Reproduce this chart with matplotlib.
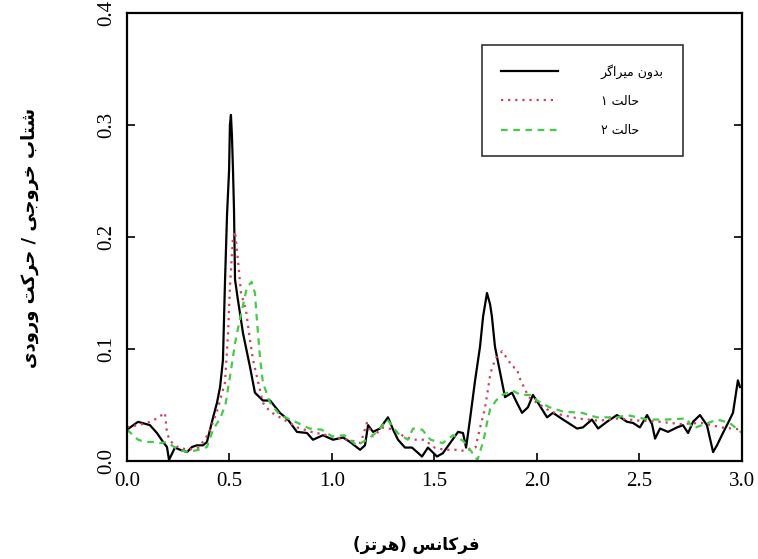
import matplotlib
matplotlib.use("Agg")
import matplotlib.pyplot as plt

# ---------------- data ----------------
f_none = [0.000, 0.054, 0.112, 0.146, 0.176, 0.195, 0.205, 0.234, 0.259, 0.293, 0.317, 0.341,
          0.371, 0.390, 0.405, 0.420, 0.439, 0.454, 0.468, 0.478, 0.488, 0.498, 0.502, 0.507,
          0.512, 0.517, 0.522, 0.527, 0.541, 0.566, 0.600, 0.624, 0.663, 0.698, 0.746, 0.785,
          0.829, 0.878, 0.907, 0.956, 1.005, 1.054, 1.088, 1.137, 1.161, 1.176, 1.200, 1.234,
          1.273, 1.298, 1.322, 1.356, 1.390, 1.415, 1.439, 1.468, 1.512, 1.541, 1.576, 1.615,
          1.639, 1.654, 1.673, 1.698, 1.722, 1.737, 1.756, 1.771, 1.780, 1.795, 1.820, 1.844,
          1.878, 1.902, 1.927, 1.956, 1.980, 2.005, 2.049, 2.078, 2.127, 2.195, 2.224, 2.268,
          2.298, 2.341, 2.390, 2.439, 2.468, 2.502, 2.537, 2.561, 2.576, 2.600, 2.639, 2.683,
          2.712, 2.737, 2.761, 2.795, 2.829, 2.844, 2.859, 2.878, 2.907, 2.932, 2.956, 2.971,
          2.980, 2.990]
a_none = [0.028, 0.035, 0.032, 0.025, 0.017, 0.0125, 0.001, 0.012, 0.010, 0.008, 0.0125, 0.014,
          0.014, 0.017, 0.028, 0.039, 0.052, 0.066, 0.090, 0.160, 0.220, 0.260, 0.300, 0.309,
          0.290, 0.260, 0.224, 0.162, 0.144, 0.114, 0.084, 0.061, 0.054, 0.054, 0.043, 0.037,
          0.026, 0.025, 0.019, 0.023, 0.019, 0.021, 0.017, 0.010, 0.014, 0.032, 0.026, 0.029,
          0.039, 0.028, 0.019, 0.012, 0.012, 0.008, 0.004, 0.012, 0.004, 0.007, 0.016, 0.026,
          0.025, 0.012, 0.037, 0.072, 0.102, 0.129, 0.150, 0.140, 0.129, 0.102, 0.079, 0.057,
          0.061, 0.052, 0.043, 0.048, 0.059, 0.052, 0.039, 0.043, 0.037, 0.029, 0.030, 0.037,
          0.029, 0.035, 0.041, 0.035, 0.034, 0.030, 0.041, 0.033, 0.020, 0.029, 0.026, 0.030,
          0.032, 0.025, 0.035, 0.041, 0.032, 0.020, 0.008, 0.014, 0.025, 0.034, 0.043, 0.061,
          0.072, 0.066]

f_case1 = [0.000, 0.050, 0.100, 0.146, 0.185, 0.195, 0.210, 0.250, 0.300, 0.350, 0.400, 0.440,
           0.478, 0.493, 0.502, 0.517, 0.527, 0.541, 0.556, 0.580, 0.600, 0.615, 0.634, 0.663,
           0.698, 0.746, 0.830, 0.900, 0.950, 1.000, 1.050, 1.100, 1.140, 1.170, 1.200, 1.250,
           1.300, 1.350, 1.400, 1.450, 1.500, 1.550, 1.600, 1.650, 1.700, 1.720, 1.745, 1.760,
           1.770, 1.780, 1.800, 1.830, 1.860, 1.880, 1.900, 1.920, 1.960, 2.000, 2.050, 2.100,
           2.200, 2.300, 2.400, 2.500, 2.600, 2.700, 2.800, 2.900, 3.000]
a_case1 = [0.030, 0.032, 0.034, 0.038, 0.043, 0.025, 0.018, 0.012, 0.010, 0.012, 0.025, 0.045,
           0.070, 0.114, 0.155, 0.200, 0.205, 0.180, 0.150, 0.135, 0.108, 0.090, 0.075, 0.052,
           0.044, 0.039, 0.030, 0.026, 0.024, 0.022, 0.020, 0.018, 0.016, 0.034, 0.022, 0.030,
           0.028, 0.022, 0.019, 0.019, 0.012, 0.010, 0.010, 0.009, 0.012, 0.028, 0.046, 0.063,
           0.075, 0.083, 0.092, 0.098, 0.090, 0.084, 0.083, 0.072, 0.057, 0.052, 0.046, 0.042,
           0.038, 0.036, 0.038, 0.036, 0.035, 0.033, 0.034, 0.030, 0.028]

f_case2 = [0.000, 0.054, 0.090, 0.130, 0.160, 0.195, 0.250, 0.300, 0.350, 0.390, 0.420, 0.454,
           0.480, 0.502, 0.527, 0.541, 0.561, 0.585, 0.608, 0.624, 0.634, 0.649, 0.663, 0.698,
           0.746, 0.810, 0.890, 0.950, 1.000, 1.060, 1.120, 1.170, 1.220, 1.270, 1.320, 1.370,
           1.395, 1.440, 1.480, 1.540, 1.590, 1.640, 1.690, 1.710, 1.740, 1.756, 1.771, 1.800,
           1.830, 1.880, 1.920, 1.970, 2.000, 2.060, 2.130, 2.220, 2.290, 2.390, 2.440, 2.540,
           2.630, 2.730, 2.760, 2.880, 2.940, 2.980, 3.000]
a_case2 = [0.028, 0.019, 0.017, 0.017, 0.016, 0.017, 0.010, 0.008, 0.010, 0.0125, 0.028, 0.038,
           0.050, 0.075, 0.105, 0.118, 0.135, 0.155, 0.160, 0.150, 0.125, 0.092, 0.070, 0.052,
           0.041, 0.036, 0.029, 0.028, 0.022, 0.023, 0.014, 0.019, 0.026, 0.037, 0.025, 0.019,
           0.029, 0.028, 0.019, 0.016, 0.023, 0.018, 0.006, 0.001, 0.019, 0.034, 0.046, 0.054,
           0.059, 0.063, 0.059, 0.059, 0.054, 0.048, 0.044, 0.043, 0.039, 0.039, 0.041, 0.037,
           0.037, 0.038, 0.029, 0.037, 0.034, 0.028, 0.025]

labels = ["بدون میراگر", "حالت ۱", "حالت ۲"]
xlabel = "فرکانس (هرتز)"
ylabel = "شتاب خروجی / حرکت ورودی"
xticks = [0.0, 0.5, 1.0, 1.5, 2.0, 2.5, 3.0]
yticks = [0.0, 0.1, 0.2, 0.3, 0.4]

# ------------- simple Arabic/Persian shaping (matplotlib has no bidi) -------------
FORMS = {
    'ا': ('\uFE8D', '\uFE8E', None, None),
    'ب': ('\uFE8F', '\uFE90', '\uFE91', '\uFE92'),
    'ت': ('\uFE95', '\uFE96', '\uFE97', '\uFE98'),
    'ج': ('\uFE9D', '\uFE9E', '\uFE9F', '\uFEA0'),
    'ح': ('\uFEA1', '\uFEA2', '\uFEA3', '\uFEA4'),
    'خ': ('\uFEA5', '\uFEA6', '\uFEA7', '\uFEA8'),
    'د': ('\uFEA9', '\uFEAA', None, None),
    'ر': ('\uFEAD', '\uFEAE', None, None),
    'ز': ('\uFEAF', '\uFEB0', None, None),
    'س': ('\uFEB1', '\uFEB2', '\uFEB3', '\uFEB4'),
    'ش': ('\uFEB5', '\uFEB6', '\uFEB7', '\uFEB8'),
    'ف': ('\uFED1', '\uFED2', '\uFED3', '\uFED4'),
    'ل': ('\uFEDD', '\uFEDE', '\uFEDF', '\uFEE0'),
    'م': ('\uFEE1', '\uFEE2', '\uFEE3', '\uFEE4'),
    'ن': ('\uFEE5', '\uFEE6', '\uFEE7', '\uFEE8'),
    'ه': ('\uFEE9', '\uFEEA', '\uFEEB', '\uFEEC'),
    'و': ('\uFEED', '\uFEEE', None, None),
    'ی': ('\uFBFC', '\uFBFD', '\uFBFE', '\uFBFF'),
    'ک': ('\uFB8E', '\uFB8F', '\uFB90', '\uFB91'),
    'گ': ('\uFB92', '\uFB93', '\uFB94', '\uFB95'),
}


def shape(text):
    out = []
    for i, c in enumerate(text):
        if c not in FORMS:
            out.append(c)
            continue
        iso, fin, ini, med = FORMS[c]
        prev = text[i - 1] if i > 0 else ''
        nxt = text[i + 1] if i + 1 < len(text) else ''
        jp = prev in FORMS and FORMS[prev][2] is not None
        jn = nxt in FORMS and ini is not None
        if jp and jn:
            out.append(med)
        elif jp:
            out.append(fin)
        elif jn:
            out.append(ini)
        else:
            out.append(iso)
    s = ''.join(out)[::-1]
    mirror = {'(': ')', ')': '('}
    return ''.join(mirror.get(c, c) for c in s)


ARFONT = ['DejaVu Sans']
SERIF = ['Liberation Serif', 'DejaVu Serif']

fig = plt.figure(figsize=(7.58, 5.59), dpi=100)
ax = fig.add_axes([127 / 758, 98 / 559, 615 / 758, 448 / 559])

ax.plot(f_none, a_none, color='black', lw=1.6, ls='-', label=shape(labels[0]))
ax.plot(f_case1, a_case1, color='#d0405a', lw=1.6, ls=(0, (1, 2.2)), label=shape(labels[1]))
ax.plot(f_case2, a_case2, color='#44cc44', lw=1.6, ls=(0, (3, 2.5)), label=shape(labels[2]))

ax.set_xlim(0, 3.0)
ax.set_ylim(0, 0.4)
ax.set_xticks(xticks)
ax.set_yticks(yticks)
ax.set_xticklabels([f"{v:.1f}" for v in xticks], family=SERIF, fontsize=15)
ax.set_yticklabels([f"{v:.1f}" for v in yticks], family=SERIF, fontsize=15,
                   rotation=90, va='center')
ax.tick_params(axis='both', direction='in', length=6, width=1.2)
ax.tick_params(axis='y', right=True, pad=8)
ax.tick_params(axis='x', pad=8)
for sp in ax.spines.values():
    sp.set_linewidth(1.6)

leg = ax.legend(loc='upper left', bbox_to_anchor=((482 - 127) / 615, (461 - 45) / 448),
                borderaxespad=0, frameon=True, fancybox=False, edgecolor='black',
                prop={'family': ARFONT, 'size': 9}, handlelength=4.6, handletextpad=3.4,
                labelspacing=1.3, borderpad=1.5)
leg.get_frame().set_linewidth(1.2)

fig.text(416 / 758, 1 - 545 / 559, shape(xlabel), family=ARFONT, fontsize=12,
         fontweight='bold', ha='center', va='center')
fig.text(30 / 758, 1 - 238 / 559, shape(ylabel), family=ARFONT, fontsize=13,
         fontweight='bold', ha='center', va='center', rotation=90)

fig.savefig('out.png', dpi=100)
